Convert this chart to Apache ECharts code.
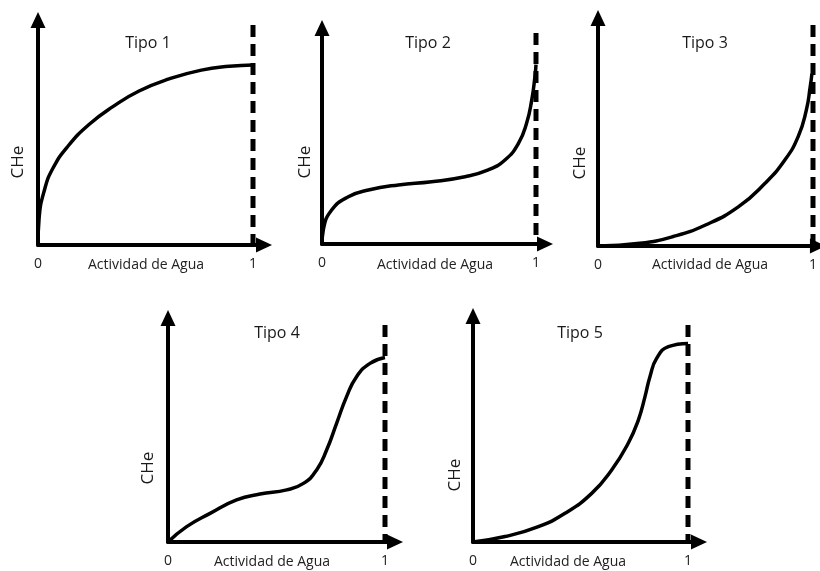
<!DOCTYPE html>
<html>
<head>
<meta charset="utf-8">
<script src="https://cdn.jsdelivr.net/npm/echarts@6/dist/echarts.min.js"></script>
<style>
html,body{margin:0;padding:0;background:#fff;}
#c{width:820px;height:571px;}
</style>
</head>
<body>
<div id="c"></div>
<script>
// ---- data ----
const titles = ['Tipo 1', 'Tipo 2', 'Tipo 3', 'Tipo 4', 'Tipo 5'];
const yName = 'CHe';
const xName = 'Actividad de Agua';
const xTickValues = [0, 1];
const xTickLabels = ['0', '1'];
const dashedLine = [[1, 1], [1, 0]];

const tipo1 = [[0,0],[0.005,0.12],[0.03,0.25],[0.07,0.35],[0.14,0.45],[0.24,0.55],[0.35,0.63],[0.47,0.7],[0.61,0.755],[0.76,0.795],[0.89,0.812],[1,0.818]];
const tipo2 = [[0,0],[0.006,0.066],[0.045,0.161],[0.123,0.224],[0.217,0.256],[0.357,0.28],[0.512,0.295],[0.668,0.319],[0.777,0.351],[0.855,0.398],[0.918,0.477],[0.956,0.572],[0.98,0.682],[0.995,0.793],[1,0.85]];
const tipo3 = [[0,0],[0.194,0.012],[0.347,0.042],[0.5,0.095],[0.654,0.178],[0.777,0.284],[0.869,0.389],[0.931,0.495],[0.969,0.615],[0.987,0.72],[0.995,0.78]];
const tipo4 = [[0,0],[0.086,0.071],[0.194,0.132],[0.316,0.194],[0.424,0.221],[0.547,0.24],[0.624,0.27],[0.685,0.332],[0.731,0.424],[0.777,0.547],[0.823,0.67],[0.869,0.762],[0.931,0.823],[1,0.85]];
const tipo5 = [[0,0],[0.149,0.025],[0.304,0.071],[0.428,0.132],[0.552,0.224],[0.645,0.332],[0.722,0.455],[0.769,0.562],[0.8,0.67],[0.823,0.762],[0.854,0.846],[0.909,0.9],[1,0.915]];
const curves = [tipo1, tipo2, tipo3, tipo4, tipo5];

// ---- layout (pixels) ----
const ARROW_LEN = 16, ARROW_W = 15;
const layout = [
  {x0:38,  x1:253, tip:272, base:245, dashTop:25, arrowTop:12, title:[148,43], che:[18,162], name:[146,265]},
  {x0:322, x1:536, tip:553, base:244, dashTop:33, arrowTop:20, title:[428,43], che:[305,162], name:[435,265]},
  {x0:598, x1:815, tip:828, base:246, dashTop:25, arrowTop:10, title:[705,43], che:[580,163], name:[710,265]},
  {x0:168, x1:385, tip:403, base:542, dashTop:325, arrowTop:310, title:[277,333], che:[148,468], name:[272,562]},
  {x0:473, x1:688, tip:707, base:542, dashTop:325, arrowTop:308, title:[580,333], che:[455,475], name:[568,562]}
];

const FONT = '"Open Sans", "Noto Sans", sans-serif';
const grid = [], xAxis = [], yAxis = [], series = [], graphic = [];

layout.forEach((L, i) => {
  const right = L.tip - ARROW_LEN / 2;
  const top = L.arrowTop + ARROW_LEN / 2;
  grid.push({left: L.x0, top: top, width: right - L.x0, height: L.base - top});
  xAxis.push({
    gridIndex: i, type: 'value', min: 0, max: (right - L.x0) / (L.x1 - L.x0),
    splitLine: {show: false}, axisTick: {show: false},
    axisLine: {show: true, lineStyle: {color: '#000', width: 4}, symbol: ['none', 'triangle'], symbolSize: [ARROW_W, ARROW_LEN]},
    axisLabel: {customValues: xTickValues, formatter: v => xTickLabels[xTickValues.indexOf(v)] ?? '',
      margin: 12, color: '#222', fontSize: 14, fontFamily: FONT}
  });
  yAxis.push({
    gridIndex: i, type: 'value', min: 0, max: (L.base - top) / (L.base - L.dashTop),
    splitLine: {show: false}, axisTick: {show: false}, axisLabel: {show: false},
    axisLine: {show: true, lineStyle: {color: '#000', width: 4}, symbol: ['none', 'triangle'], symbolSize: [ARROW_W, ARROW_LEN]}
  });
  series.push({
    type: 'line', xAxisIndex: i, yAxisIndex: i, data: dashedLine, showSymbol: false, silent: true,
    lineStyle: {color: '#000', width: 5, type: [12, 7]}, z: 2
  });
  series.push({
    type: 'line', xAxisIndex: i, yAxisIndex: i, data: curves[i], smooth: 0.5, showSymbol: false,
    lineStyle: {color: '#000', width: 3.5}, z: 3
  });
  graphic.push({type: 'text', x: L.title[0], y: L.title[1],
    style: {text: titles[i], fill: '#1a1a1a', font: '16px ' + FONT, align: 'center', verticalAlign: 'middle'}});
  graphic.push({type: 'text', x: L.che[0], y: L.che[1], rotation: Math.PI / 2,
    style: {text: yName, fill: '#1a1a1a', font: '17px ' + FONT, align: 'center', verticalAlign: 'middle'}});
  graphic.push({type: 'text', x: L.name[0], y: L.name[1],
    style: {text: xName, fill: '#222', font: '14px ' + FONT, align: 'center', verticalAlign: 'middle'}});
});

const chart = echarts.init(document.getElementById('c'), null, {renderer: 'canvas'});
chart.setOption({backgroundColor: '#fff', animation: false, grid, xAxis, yAxis, series, graphic});
</script>
</body>
</html>
